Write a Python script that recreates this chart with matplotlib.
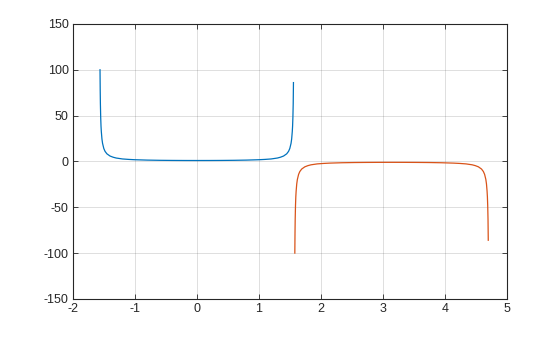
import matplotlib.pyplot as plt

plt.rcParams['font.family'] = ['Liberation Sans', 'DejaVu Sans']
plt.rcParams['axes.unicode_minus'] = False

# left branch (blue)
x1 = [-1.561, -1.558, -1.555, -1.55, -1.545, -1.54, -1.53, -1.52, -1.5, -1.48,
      -1.45, -1.4, -1.35, -1.3, -1.2, -1.1, -1.0, -0.8, -0.6, -0.4, -0.2, 0.0,
      0.2, 0.4, 0.6, 0.8, 1.0, 1.1, 1.2, 1.3, 1.35, 1.4, 1.45, 1.48, 1.5, 1.52,
      1.53, 1.54, 1.545, 1.55, 1.555, 1.559]
y1 = [100, 78, 63, 48, 38.5, 32.6, 24.5, 19.7, 14.1, 11.0,
      8.3, 5.9, 4.6, 3.7, 2.7, 2.2, 1.85, 1.44, 1.21, 1.09, 1.02, 1.0,
      1.02, 1.09, 1.21, 1.44, 1.85, 2.2, 2.7, 3.7, 4.6, 5.9, 8.3, 11.0, 14.1, 19.7,
      24.5, 32.6, 38.5, 48, 63, 86]

# right branch (orange)
x2 = [1.581, 1.584, 1.587, 1.592, 1.597, 1.602, 1.612, 1.622, 1.642, 1.662,
      1.692, 1.742, 1.792, 1.842, 1.942, 2.042, 2.142, 2.342, 2.542, 2.742, 2.942, 3.142,
      3.342, 3.542, 3.742, 3.942, 4.142, 4.242, 4.342, 4.442, 4.492, 4.542, 4.592, 4.622,
      4.642, 4.662, 4.672, 4.682, 4.687, 4.692, 4.697, 4.701]
y2 = [-100, -78, -63, -48, -38.5, -32.6, -24.5, -19.7, -14.1, -11.0,
      -8.3, -5.9, -4.6, -3.7, -2.7, -2.2, -1.85, -1.44, -1.21, -1.09, -1.02, -1.0,
      -1.02, -1.09, -1.21, -1.44, -1.85, -2.2, -2.7, -3.7, -4.6, -5.9, -8.3, -11.0,
      -14.1, -19.7, -24.5, -32.6, -38.5, -48, -63, -86]

xticks = [-2, -1, 0, 1, 2, 3, 4, 5]
yticks = [-150, -100, -50, 0, 50, 100, 150]

fig = plt.figure(figsize=(5.6, 3.37), dpi=100)
ax = fig.add_axes([0.13, 0.113, 0.775, 0.816])
ax.plot(x1, y1, color='#0072BD', lw=0.9)
ax.plot(x2, y2, color='#D95319', lw=0.9)

ax.set_xlim(-2, 5)
ax.set_ylim(-150, 150)
ax.set_xticks(xticks)
ax.set_yticks(yticks)
ax.grid(True, color='#262626', alpha=0.15, lw=0.7)
ax.tick_params(direction='in', length=3.5, width=0.6, top=True, right=True,
               labelsize=9, colors='#262626', pad=3)
for spine in ax.spines.values():
    spine.set_color('#262626')
    spine.set_linewidth(0.8)

fig.savefig('out.png', dpi=100)
